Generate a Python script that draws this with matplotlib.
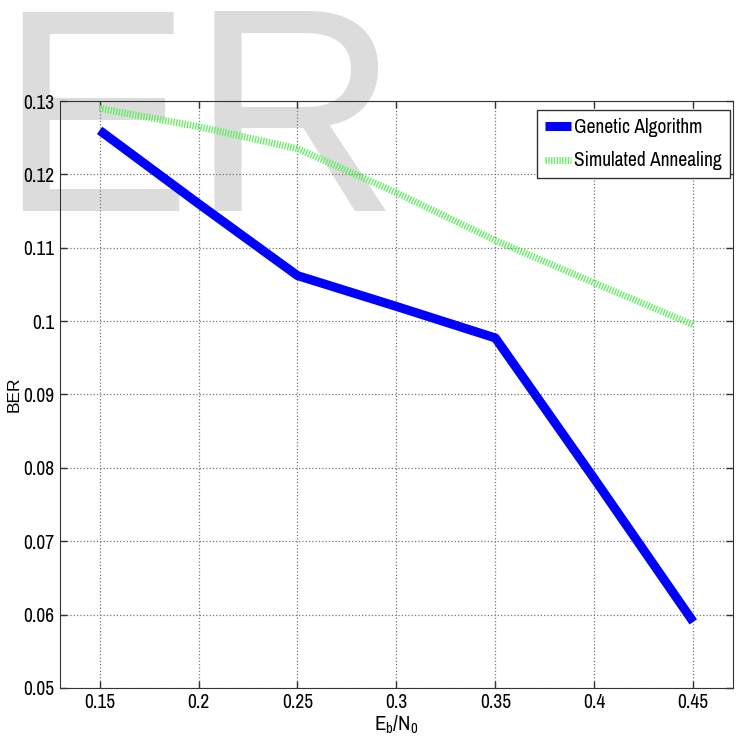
"""BER vs Eb/N0: genetic algorithm vs simulated annealing."""
import matplotlib
matplotlib.use("Agg")
import matplotlib.pyplot as plt
from matplotlib import font_manager

ebn0 = [0.15, 0.20, 0.25, 0.30, 0.35, 0.40, 0.45]
ber_ga = [0.1260, 0.1160, 0.1062, 0.1020, 0.0977, 0.0785, 0.0590]
ber_sa = [0.1290, 0.1265, 0.1235, 0.1175, 0.1110, 0.1052, 0.0995]
yticks = [0.05, 0.06, 0.07, 0.08, 0.09, 0.1, 0.11, 0.12, 0.13]
xticks = [0.15, 0.2, 0.25, 0.3, 0.35, 0.4, 0.45]

# look for a narrow sans face (MATLAB-ish Arial Narrow look), else plain Liberation Sans
narrow, stretch = "Liberation Sans", "normal"
for f in font_manager.fontManager.ttflist:
    if "Narrow" in f.name or "Condensed" in f.name:
        narrow = f.name
        break
else:
    for f in font_manager.fontManager.ttflist:
        if f.name in ("DejaVu Sans", "Liberation Sans") and f.stretch == "condensed":
            narrow, stretch = f.name, "condensed"
            break

fig = plt.figure(figsize=(7.41, 7.51), dpi=100)
# watermark behind the axes
fig.text(-0.003, 0.999, "ER", fontsize=208, color="#dcdcdc", family="Liberation Sans",
         ha="left", va="top", zorder=0)

ax = fig.add_axes([0.081, 0.084, 0.908, 0.7815])
ax.set_zorder(1)
ax.patch.set_alpha(0)
ax.plot(ebn0, ber_ga, color="#0000ff", lw=6.5, solid_capstyle="butt",
        label="Genetic Algorithm")
ax.plot(ebn0, ber_sa, color="#66ee66", lw=5, dashes=(0.2, 0.2), dash_capstyle="butt",
        label="Simulated Annealing")

tfont = {"family": narrow, "stretch": stretch}
ax.set_xlim(0.13, 0.47)
ax.set_ylim(0.05, 0.13)
ax.set_xticks(xticks)
ax.set_yticks(yticks)
ax.set_xticklabels([f"{v:g}" for v in xticks], fontsize=14, **tfont)
ax.set_yticklabels([f"{v:g}" for v in yticks], fontsize=14, **tfont)
ax.tick_params(direction="in", top=True, right=True, length=5, width=1, color="#333333", pad=4)
ax.grid(True, linestyle=":", color="#777777", lw=0.9)
for s in ax.spines.values():
    s.set_color("#333333")

ax.set_xlabel(r"E$_\mathregular{b}$/N$_\mathregular{0}$", fontsize=15, labelpad=1, **tfont)
ax.set_ylabel("BER", family="Liberation Sans", fontsize=12.5, labelpad=1)

leg = ax.legend(loc="upper right", bbox_to_anchor=(0.9955, 0.9846), borderaxespad=0,
                fancybox=False, framealpha=1, edgecolor="#333333",
                prop={"family": narrow, "stretch": stretch, "size": 14},
                handlelength=1.35, borderpad=0.4, handletextpad=0.15, labelspacing=0.75)
leg.get_frame().set_linewidth(1)

fig.savefig("out.png", dpi=100)
